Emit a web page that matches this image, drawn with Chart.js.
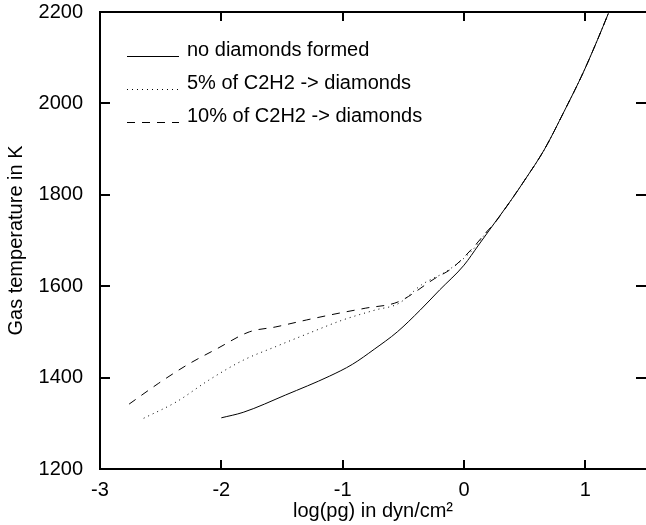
<!DOCTYPE html>
<html>
<head>
<meta charset="utf-8">
<script src="https://cdn.jsdelivr.net/npm/chart.js@4.4.0/dist/chart.umd.min.js"></script>
<style>
	body { margin: 0; background: #fff; }
	canvas { display: block; }
</style>
</head>
<body>
<canvas id="myChart" width="646" height="525"></canvas>
<script>
// values
const noDiamondsX = [-2.0, -1.82, -1.47, -1.11, -0.92, -0.74, -0.55, -0.36, -0.2, 0.0, 0.12, 0.24, 0.39, 0.5, 0.66, 0.83, 0.98, 1.1, 1.19, 1.21];
const noDiamondsT = [1312, 1324, 1362, 1403, 1429, 1462, 1500, 1548, 1592, 1646, 1690, 1734, 1789, 1832, 1898, 1985, 2066, 2139, 2197, 2210];

const fivePctX = [-2.64, -2.37, -2.1, -1.82, -1.55, -1.28, -1.0, -0.73, -0.54, -0.35, -0.13, 0.07, 0.18, 0.24, 0.39, 0.5, 0.66, 0.83, 0.98, 1.1, 1.19, 1.21];
const fivePctT = [1311, 1347, 1395, 1438, 1468, 1497, 1526, 1548, 1562, 1603, 1635, 1679, 1716, 1734, 1789, 1832, 1898, 1985, 2066, 2139, 2197, 2210];

const tenPctX = [-2.76, -2.52, -2.28, -2.03, -1.77, -1.55, -1.3, -1.03, -0.81, -0.54, -0.24, -0.1, 0.07, 0.2, 0.24, 0.39, 0.5, 0.66, 0.83, 0.98, 1.1, 1.19, 1.21];
const tenPctT = [1342, 1387, 1428, 1464, 1500, 1511, 1526, 1541, 1552, 1566, 1617, 1639, 1683, 1723, 1734, 1789, 1832, 1898, 1985, 2066, 2139, 2197, 2210];

const xTicks = [-3, -2, -1, 0, 1];
const yTicks = [1200, 1400, 1600, 1800, 2000, 2200];

const seriesNames = ["no diamonds formed", "5% of C2H2 -> diamonds", "10% of C2H2 -> diamonds"];

const FONT = "'Liberation Sans', Arial, sans-serif";

function toPoints(xs, ys) {
	return xs.map((x, i) => ({ x: x, y: ys[i] }));
}

// frame, inward ticks and the legend
const framePlugin = {
	id: "frame",
	afterDraw(chart) {
		const c = chart.ctx;
		const a = chart.chartArea;
		const xs = chart.scales.x;
		const ys = chart.scales.y;
		c.save();
		c.strokeStyle = "#000";
		c.lineWidth = 2;
		c.beginPath();
		c.moveTo(a.left, a.top);
		c.lineTo(a.right, a.top);
		c.moveTo(a.left, a.top - 1);
		c.lineTo(a.left, a.bottom + 1);
		c.moveTo(a.left, a.bottom);
		c.lineTo(a.right, a.bottom);
		xTicks.forEach((v) => {
			const px = Math.round(xs.getPixelForValue(v));
			c.moveTo(px, a.bottom);
			c.lineTo(px, a.bottom - 9);
			c.moveTo(px, a.top);
			c.lineTo(px, a.top + 9);
		});
		yTicks.forEach((v) => {
			const py = Math.round(ys.getPixelForValue(v));
			c.moveTo(a.left, py);
			c.lineTo(a.left + 10, py);
			c.moveTo(a.right, py);
			c.lineTo(a.right - 10, py);
		});
		c.stroke();

		// legend
		c.lineWidth = 1;
		c.font = "20px " + FONT;
		c.fillStyle = "#000";
		c.textBaseline = "alphabetic";
		chart.data.datasets.forEach((ds, i) => {
			const y = 56 + i * 33;
			c.setLineDash(ds.borderDash || []);
			c.beginPath();
			c.moveTo(127, y + 0.5);
			c.lineTo(179, y + 0.5);
			c.stroke();
			c.setLineDash([]);
			c.fillText(ds.label, 187, y);
		});
		c.restore();
	},
};

const ctx = document.getElementById("myChart");
const myChart = new Chart(ctx, {
	type: "line",
	data: {
		datasets: [
			{
				label: seriesNames[0],
				data: toPoints(noDiamondsX, noDiamondsT),
				borderColor: "#000",
				borderWidth: 1,
				pointRadius: 0,
				cubicInterpolationMode: "monotone",
			},
			{
				label: seriesNames[1],
				data: toPoints(fivePctX, fivePctT),
				borderColor: "#000",
				borderWidth: 1,
				borderDash: [1, 4],
				pointRadius: 0,
				cubicInterpolationMode: "monotone",
			},
			{
				label: seriesNames[2],
				data: toPoints(tenPctX, tenPctT),
				borderColor: "#000",
				borderWidth: 1,
				borderDash: [8, 7],
				pointRadius: 0,
				cubicInterpolationMode: "monotone",
			},
		],
	},
	options: {
		responsive: false,
		animation: false,
		layout: { padding: { top: 12, right: 0, left: 0, bottom: 0 } },
		plugins: {
			legend: { display: false },
			tooltip: { enabled: false },
		},
		scales: {
			x: {
				type: "linear",
				min: -3,
				max: 1.5,
				grid: { display: false },
				border: { display: false },
				afterBuildTicks: (scale) => {
					scale.ticks = xTicks.map((v) => ({ value: v }));
				},
				afterFit: (scale) => {
					scale.height = 56;
					scale.paddingLeft = 0;
					scale.paddingRight = 0;
				},
				ticks: {
					color: "#000",
					padding: 1,
					maxRotation: 0,
					callback: (v) => String(v),
					font: { family: FONT, size: 20 },
				},
				title: {
					display: true,
					text: "log(pg) in dyn/cm²",
					color: "#000",
					padding: { top: 0, bottom: 2 },
					font: { family: FONT, size: 20 },
				},
			},
			y: {
				type: "linear",
				min: 1200,
				max: 2200,
				grid: { display: false },
				border: { display: false },
				afterBuildTicks: (scale) => {
					scale.ticks = yTicks.map((v) => ({ value: v }));
				},
				afterFit: (scale) => {
					scale.width = 100;
					scale.paddingTop = 0;
					scale.paddingBottom = 0;
				},
				ticks: {
					color: "#000",
					padding: 9,
					callback: (v) => String(v),
					font: { family: FONT, size: 20 },
				},
				title: {
					display: true,
					text: "Gas temperature in K",
					color: "#000",
					padding: { top: 4, bottom: 4 },
					font: { family: FONT, size: 20 },
				},
			},
		},
	},
	plugins: [framePlugin],
});
</script>
</body>
</html>
